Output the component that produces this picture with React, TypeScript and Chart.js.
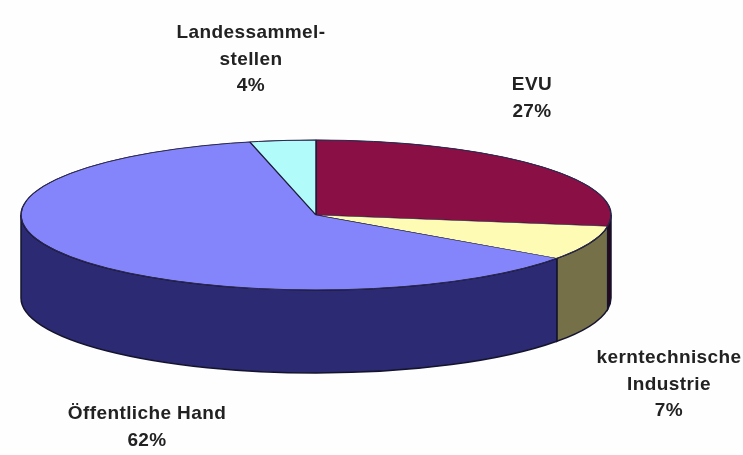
import React, { useEffect, useRef } from "react";
import { Chart, registerables } from "chart.js";

Chart.register(...registerables);

const categories = ["EVU", "kerntechnische\nIndustrie", "Öffentliche Hand", "Landessammel-\nstellen"];
const shares = [27.4, 7.4, 61.6, 3.6];
const topColors = ["#8a0f45", "#fdfbb4", "#8585fb", "#b2fbfb"];
const wallColors = ["#2a0618", "#767048", "#2c2a72", "#5f8a8a"];

const WIDTH = 743;
const HEIGHT = 455;
const RADIUS_X = 295;
const RADIUS_Y = 75;
const DEPTH = 83;
const labelAnchors = [
  { x: 532, y: 85 },
  { x: 669, y: 358 },
  { x: 147, y: 414 },
  { x: 251, y: 33 },
];

const pie3d = {
  id: "pie3d",
  beforeDatasetsDraw(chart: any) {
    const { ctx } = chart;
    const arcs = chart.getDatasetMeta(0).data;
    const cx = arcs[0].x;
    const cy = arcs[0].y;
    ctx.save();
    arcs.forEach((arc: any, i: number) => {
      const a = Math.max(arc.startAngle, 0);
      const b = Math.min(arc.endAngle, Math.PI);
      if (b <= a) return;
      ctx.beginPath();
      ctx.ellipse(cx, cy, RADIUS_X, RADIUS_Y, 0, a, b);
      ctx.ellipse(cx, cy + DEPTH, RADIUS_X, RADIUS_Y, 0, b, a, true);
      ctx.closePath();
      ctx.fillStyle = wallColors[i];
      ctx.fill();
      ctx.lineWidth = 1.5;
      ctx.strokeStyle = "#15142e";
      ctx.stroke();
    });
    ctx.restore();
    ctx.save();
    ctx.translate(cx, cy);
    ctx.scale(1, RADIUS_Y / RADIUS_X);
    ctx.translate(-cx, -cy);
  },
  afterDatasetsDraw(chart: any) {
    const { ctx } = chart;
    ctx.restore();
    const arc = chart.getDatasetMeta(0).data[0];
    ctx.save();
    ctx.beginPath();
    ctx.ellipse(arc.x, arc.y, RADIUS_X, RADIUS_Y, 0, 0, Math.PI * 2);
    ctx.lineWidth = 1;
    ctx.strokeStyle = "#2a2850";
    ctx.stroke();
    ctx.restore();
  },
  afterDraw(chart: any) {
    const { ctx } = chart;
    ctx.save();
    ctx.font = "bold 19px 'Liberation Sans', Arial, sans-serif";
    (ctx as any).letterSpacing = "0.4px";
    ctx.fillStyle = "#222222";
    ctx.textAlign = "center";
    ctx.textBaseline = "middle";
    categories.forEach((name, i) => {
      const lines = [...name.split("\n"), `${Math.round(shares[i])}%`];
      lines.forEach((line, j) => {
        ctx.fillText(line, labelAnchors[i].x, labelAnchors[i].y + j * 26.5);
      });
    });
    ctx.restore();
  },
};

export default function App() {
  const ref = useRef<HTMLCanvasElement | null>(null);
  useEffect(() => {
    const chart = new Chart(ref.current as HTMLCanvasElement, {
      type: "pie",
      data: {
        labels: categories,
        datasets: [
          {
            data: shares,
            backgroundColor: topColors,
            borderColor: "#1d1b3a",
            borderWidth: 1.5,
            clip: false,
          } as any,
        ],
      },
      options: {
        responsive: false,
        animation: false,
        radius: RADIUS_X,
        layout: { padding: { right: 111, bottom: 25 } },
        plugins: { legend: { display: false }, tooltip: { enabled: false } },
      } as any,
      plugins: [pie3d],
    });
    return () => chart.destroy();
  }, []);
  return (
    <div style={{ position: "fixed", left: 0, top: 0, width: WIDTH, height: HEIGHT, background: "#fefefe" }}>
      <canvas ref={ref} width={WIDTH} height={HEIGHT} style={{ display: "block" }} />
    </div>
  );
}
